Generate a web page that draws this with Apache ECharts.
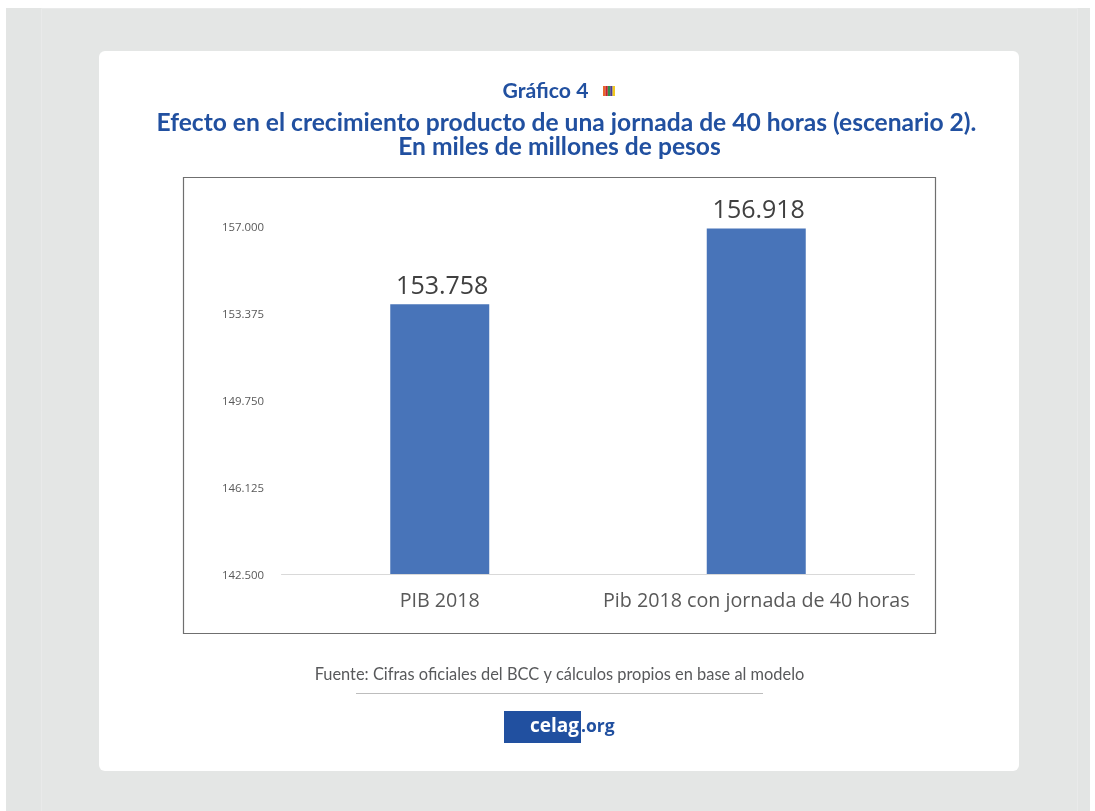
<!DOCTYPE html>
<html>
<head>
<meta charset="utf-8">
<style>html,body{margin:0;padding:0;background:#fff}#chart{width:1095px;height:811px}</style>
<script src="https://cdn.jsdelivr.net/npm/echarts@6/dist/echarts.min.js"></script>
</head>
<body>
<div id="chart"></div>
<script>
const categories = ['PIB 2018', 'Pib 2018 con jornada de 40 horas'];
const pibValues = [153758, 156918];
const axisMin = 142500;
const axisMax = 157000;
const axisStep = 3625;
const heading = 'Gráfico 4';
const titleFirstLine = 'Efecto en el crecimiento producto de una jornada de 40 horas (escenario 2).';
const titleSecondLine = 'En miles de millones de pesos';
const sourceNote = 'Fuente: Cifras oficiales del BCC y cálculos propios en base al modelo';
const flagColors = ['#e8662a', '#c8202c', '#2f8f4e', '#4a3b8f', '#f2c81e'];

const fmt = v => Math.round(v).toLocaleString('de-DE').replace(/,/g, '.');
const titleFont = 'Lato, "Open Sans", sans-serif';
const chartFont = '"Open Sans", sans-serif';
const navy = '#2150a0';

const chart = echarts.init(document.getElementById('chart'), null, { renderer: 'canvas' });

chart.setOption({
  animation: false,
  backgroundColor: '#ffffff',
  grid: { left: 281.5, top: 226.5, width: 633, height: 347.5, containLabel: false },
  xAxis: {
    type: 'category',
    data: categories,
    axisTick: { show: false },
    axisLine: { lineStyle: { color: '#d9d9d9', width: 1 } },
    axisLabel: {
      color: '#595959', fontFamily: chartFont, fontSize: 19.7, margin: 17,
      interval: 0, hideOverlap: false, overflow: 'none', width: 400
    }
  },
  yAxis: {
    type: 'value',
    min: axisMin,
    max: axisMax,
    interval: axisStep,
    axisLine: { show: false },
    axisTick: { show: false },
    splitLine: { show: false },
    axisLabel: {
      color: '#595959', fontFamily: chartFont, fontSize: 11.4, margin: 17.5,
      verticalAlign: 'top', padding: [-4, 0, 0, 0],
      formatter: v => fmt(v)
    }
  },
  series: [{
    type: 'bar',
    data: pibValues,
    barWidth: 99,
    itemStyle: { color: '#4874b9' },
    label: {
      show: true,
      position: 'top',
      distance: 5,
      offset: [2.5, 0],
      color: '#404040',
      fontFamily: chartFont,
      fontSize: 25,
      formatter: p => fmt(p.value)
    },
    z: 3
  }],
  graphic: [
    // page backdrop, its inner panel and the white card
    { type: 'rect', z: -11, silent: true, shape: { x: 6, y: 8, width: 1084, height: 803 }, style: { fill: '#e3e5e4' } },
    { type: 'rect', z: -10, silent: true, shape: { x: 41.5, y: 8.5, width: 1036, height: 810 }, style: { fill: '#e4e6e5', stroke: '#e9eaea', lineWidth: 1 } },
    { type: 'rect', z: -9, silent: true, shape: { x: 99, y: 51, width: 920, height: 720, r: 6 }, style: { fill: '#ffffff' } },
    // frame around the plot
    { type: 'rect', z: -8, silent: true, shape: { x: 183.5, y: 177.5, width: 752, height: 456 }, style: { fill: '#ffffff', stroke: '#6f6f6f', lineWidth: 1.2 } },
    // heading block
    { type: 'text', style: { x: 545.5, y: 91.5, text: heading, align: 'center', verticalAlign: 'middle', fill: navy, font: '700 21.2px ' + titleFont } },
    ...flagColors.map((c, i) => ({ type: 'rect', silent: true, shape: { x: 603 + i * 2.4, y: 86, width: 2.4, height: 10 }, style: { fill: c } })),
    { type: 'text', style: { x: 566.5, y: 123, text: titleFirstLine, align: 'center', verticalAlign: 'middle', fill: navy, font: '700 24.6px ' + titleFont } },
    { type: 'text', style: { x: 559.5, y: 147.5, text: titleSecondLine, align: 'center', verticalAlign: 'middle', fill: navy, font: '700 24.6px ' + titleFont } },
    // source note, rule and logo
    { type: 'text', style: { x: 559.5, y: 675, text: sourceNote, align: 'center', verticalAlign: 'middle', fill: '#58595b', font: '400 16.4px ' + titleFont } },
    { type: 'rect', silent: true, shape: { x: 356, y: 693, width: 407, height: 1 }, style: { fill: '#bdbdbd' } },
    { type: 'rect', silent: true, shape: { x: 504, y: 711, width: 77, height: 32 }, style: { fill: navy } },
    { type: 'text', style: { x: 579, y: 727, text: 'celag', align: 'right', verticalAlign: 'middle', fill: '#ffffff', font: '700 19px ' + chartFont } },
    { type: 'text', style: { x: 581, y: 727, text: '.org', align: 'left', verticalAlign: 'middle', fill: navy, font: '700 17.5px ' + chartFont } }
  ]
});
</script>
</body>
</html>
